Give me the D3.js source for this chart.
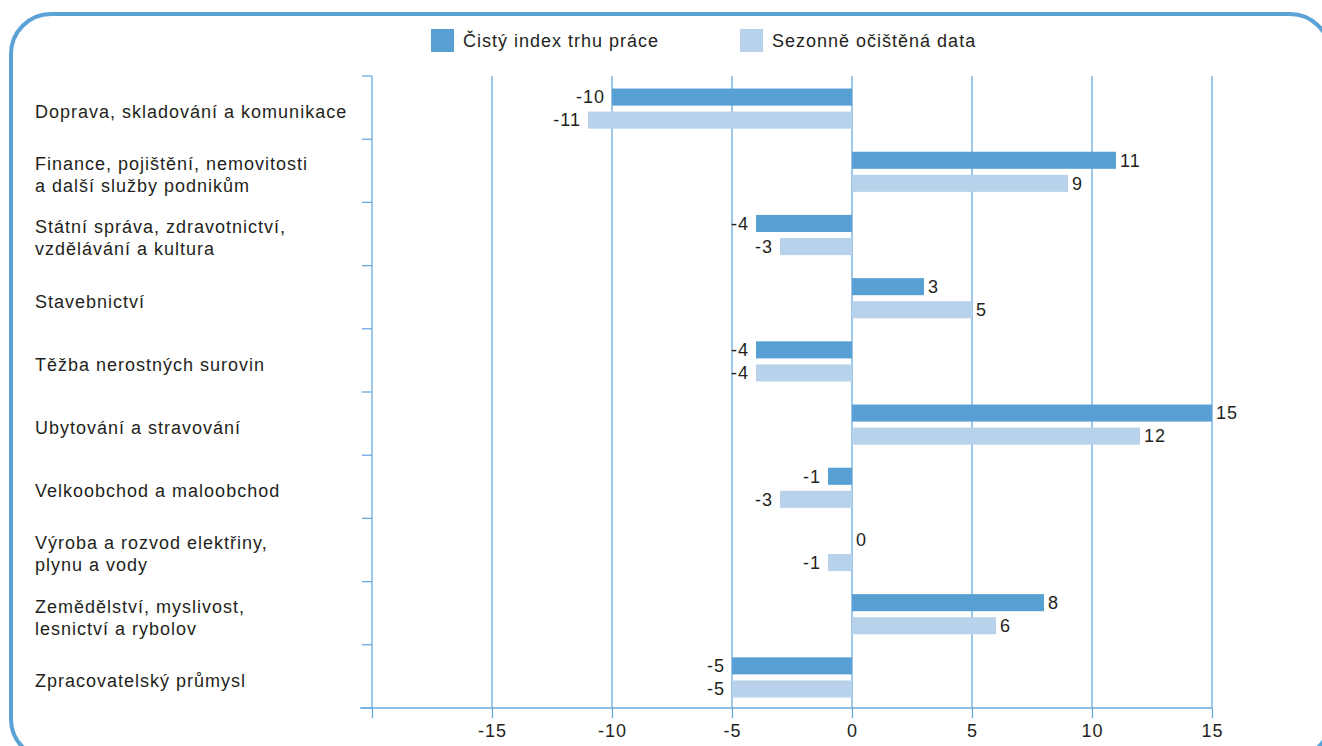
<!DOCTYPE html>
<html>
<head>
  <meta charset="utf-8">
  <title>Čistý index trhu práce</title>
  <script src="https://d3js.org/d3.v7.min.js"></script>
  <style>
    body { margin: 0; background: #fff; }
    svg text { font-family: "Liberation Sans", Arial, sans-serif; fill: #231f20; letter-spacing: 1px; }
  </style>
</head>
<body>
  <svg id="chart" width="1322" height="746"></svg>
  <script>
    // data
    let categories = [
      ["Doprava, skladování a komunikace"],
      ["Finance, pojištění, nemovitosti", "a další služby podnikům"],
      ["Státní správa, zdravotnictví,", "vzdělávání a kultura"],
      ["Stavebnictví"],
      ["Těžba nerostných surovin"],
      ["Ubytování a stravování"],
      ["Velkoobchod a maloobchod"],
      ["Výroba a rozvod elektřiny,", "plynu a vody"],
      ["Zemědělství, myslivost,", "lesnictví a rybolov"],
      ["Zpracovatelský průmysl"]
    ];
    let seriesNames = ["Čistý index trhu práce", "Sezonně očištěná data"];
    let netIndex = [-10, 11, -4, 3, -4, 15, -1, 0, 8, -5];
    let seasonal = [-11, 9, -3, 5, -4, 12, -3, -1, 6, -5];
    let xTicks = [-20, -15, -10, -5, 0, 5, 10, 15];

    let colors = ["#58a0d3", "#b7d2ea"];
    let lineColor = "#6aabdf";

    let svg = d3.select("#chart");

    // rounded frame
    svg.append("rect")
      .attr("x", 11).attr("y", 14)
      .attr("width", 1319).attr("height", 745)
      .attr("rx", 40).attr("ry", 40)
      .style("fill", "none")
      .style("stroke", "#5ba2d6")
      .style("stroke-width", 4);

    let x = d3.scaleLinear().domain([-20, 15]).range([372, 1212]);
    let keys = categories.map((d, i) => i);
    let y = d3.scaleBand().domain(keys).range([76, 708]);
    let inner = d3.scaleBand().domain([0, 1]).range([0, y.bandwidth()])
      .paddingInner(0.26).paddingOuter(0.5);

    let plotTop = y.range()[0], plotBottom = y.range()[1];

    // vertical gridlines
    svg.append("g").selectAll("line")
      .data(xTicks)
      .join("line")
      .attr("x1", d => x(d)).attr("x2", d => x(d))
      .attr("y1", plotTop).attr("y2", plotBottom)
      .style("stroke", lineColor)
      .style("stroke-width", 1.3);

    // x axis
    let xAxis = svg.append("g")
      .attr("transform", `translate(0,${plotBottom})`)
      .call(d3.axisBottom(x).tickValues(xTicks).tickSize(10).tickPadding(6)
        .tickFormat(d => d === -20 ? "" : String(d)));
    xAxis.select(".domain").remove();
    xAxis.selectAll(".tick line").style("stroke", lineColor).style("stroke-width", 1.3);
    xAxis.selectAll(".tick text")
      .style("font-size", "18px")
      .style("font-family", "Liberation Sans, Arial, sans-serif")
      .style("fill", "#231f20");
    svg.append("line")
      .attr("x1", 360).attr("x2", x(15))
      .attr("y1", plotBottom).attr("y2", plotBottom)
      .style("stroke", lineColor).style("stroke-width", 1.5);

    // y axis with ticks at the band boundaries
    let bounds = keys.map(k => y(k)).concat([plotBottom]);
    svg.append("g").selectAll("line")
      .data(bounds)
      .join("line")
      .attr("x1", 362).attr("x2", x(-20))
      .attr("y1", d => d).attr("y2", d => d)
      .style("stroke", lineColor)
      .style("stroke-width", 1.3);

    // category labels
    let labels = svg.append("g").selectAll("text")
      .data(categories)
      .join("text")
      .attr("x", 35)
      .attr("y", (d, i) => y(i) + y.bandwidth() / 2 + 4)
      .style("font-size", "18px");
    labels.selectAll("tspan")
      .data(d => d.map((t, j) => ({ t: t, j: j, n: d.length })))
      .join("tspan")
      .attr("x", 35)
      .attr("dy", d => d.j === 0 ? (d.n === 1 ? "0.35em" : (0.35 * 18 - 11) + "px") : "22px")
      .text(d => d.t);

    // bars
    let rows = [];
    keys.forEach(i => {
      rows.push({ cat: i, s: 0, v: netIndex[i] });
      rows.push({ cat: i, s: 1, v: seasonal[i] });
    });

    svg.append("g").selectAll("rect")
      .data(rows)
      .join("rect")
      .attr("x", d => x(Math.min(0, d.v)))
      .attr("y", d => y(d.cat) + inner(d.s) + 1)
      .attr("width", d => Math.abs(x(d.v) - x(0)))
      .attr("height", inner.bandwidth())
      .style("fill", d => colors[d.s]);

    // value labels
    svg.append("g").selectAll("text")
      .data(rows)
      .join("text")
      .attr("x", d => d.v < 0 ? x(d.v) - 7 : x(d.v) + 4)
      .attr("y", d => y(d.cat) + inner(d.s) + 1 + inner.bandwidth() / 2)
      .attr("dy", "0.35em")
      .attr("text-anchor", d => d.v < 0 ? "end" : "start")
      .style("font-size", "18px")
      .text(d => String(d.v));

    // legend
    let legendX = [431, 740];
    let legend = svg.append("g").selectAll("g")
      .data(seriesNames)
      .join("g")
      .attr("transform", (d, i) => `translate(${legendX[i]},29)`);
    legend.append("rect")
      .attr("width", 23).attr("height", 23)
      .style("fill", (d, i) => colors[i]);
    legend.append("text")
      .attr("x", 32).attr("y", 11.5).attr("dy", "0.35em")
      .style("font-size", "18px")
      .text(d => d);
  </script>
</body>
</html>
